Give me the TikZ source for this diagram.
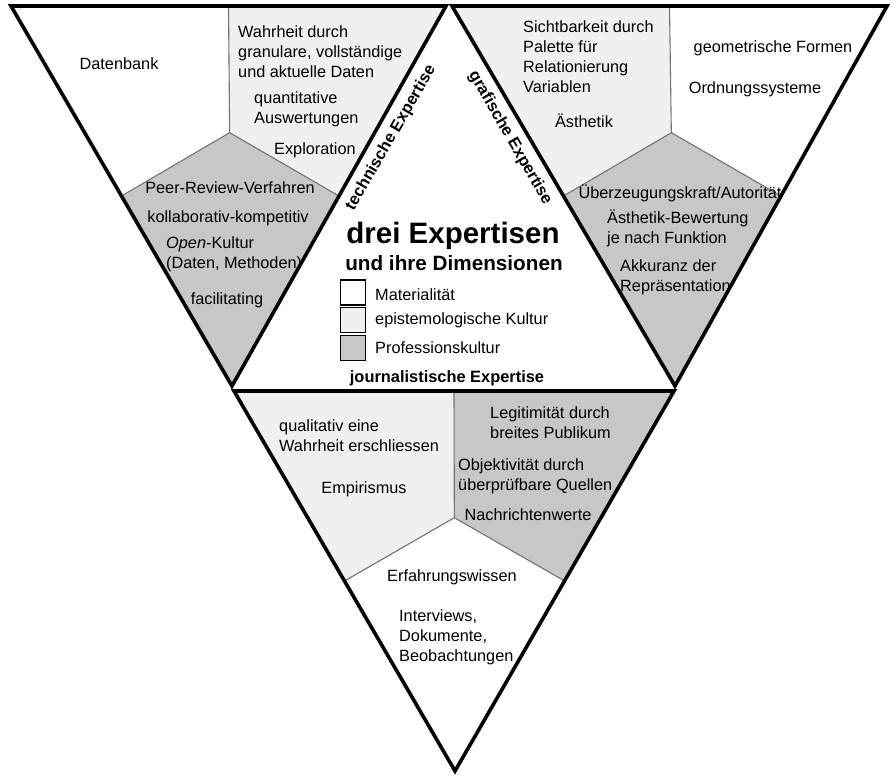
\documentclass[tikz,border=0pt]{standalone}
\usepackage{fontspec}
\setmainfont{Liberation Sans}
\usetikzlibrary{calc}
\definecolor{lightfill}{gray}{0.94}
\definecolor{darkfill}{gray}{0.78}
\definecolor{splitgray}{gray}{0.45}
\begin{document}
\begin{tikzpicture}[x=1pt,y=-1pt,
  txt/.style={font=\fontsize{16.3}{20}\selectfont, inner sep=0pt, align=left},
  ctxt/.style={txt, align=center, anchor=base},
  ltxt/.style={txt, anchor=base west},
  btxt/.style={font=\fontsize{16.4}{20}\selectfont\bfseries, inner sep=0pt},
  tribound/.style={line width=3.6pt, line join=miter},
  splitline/.style={draw=splitgray, line width=1.1pt},
  legbox/.style={draw, line width=1.3pt, minimum size=25pt, inner sep=0pt}]
\useasboundingbox (0,0) rectangle (894,777);
\fill[white] (0,0) rectangle (894,777);

% ---------- left triangle (technische Expertise)
\coordinate (LA) at (11,6);
\coordinate (LB) at (446,6);
\coordinate (LC) at (232,386);
\coordinate (LT) at ($(LA)!0.5!(LB)$);
\coordinate (LL) at ($(LA)!0.5!(LC)$);
\coordinate (LR) at ($(LB)!0.5!(LC)$);
\coordinate (LM) at ($(LT)!1/3!(LC)$);
\fill[white] (LA) -- (LT) -- (LM) -- (LL) -- cycle;
\fill[lightfill] (LT) -- (LB) -- (LR) -- (LM) -- cycle;
\fill[darkfill] (LL) -- (LM) -- (LR) -- (LC) -- cycle;
\draw[splitline] (LT) -- (LM) -- (LL) (LM) -- (LR);

% ---------- right triangle (grafische Expertise)
\coordinate (RA) at (452,6);
\coordinate (RB) at (887,6);
\coordinate (RC) at (675,386);
\coordinate (RT) at ($(RA)!0.5!(RB)$);
\coordinate (RL) at ($(RA)!0.5!(RC)$);
\coordinate (RR) at ($(RB)!0.5!(RC)$);
\coordinate (RM) at ($(RT)!1/3!(RC)$);
\fill[lightfill] (RA) -- (RT) -- (RM) -- (RL) -- cycle;
\fill[white] (RT) -- (RB) -- (RR) -- (RM) -- cycle;
\fill[darkfill] (RL) -- (RM) -- (RR) -- (RC) -- cycle;
\draw[splitline] (RT) -- (RM) -- (RL) (RM) -- (RR);

% ---------- bottom triangle (journalistische Expertise)
\coordinate (BA) at (234,391);
\coordinate (BB) at (674,391);
\coordinate (BC) at (455,771);
\coordinate (BT) at ($(BA)!0.5!(BB)$);
\coordinate (BL) at ($(BA)!0.5!(BC)$);
\coordinate (BR) at ($(BB)!0.5!(BC)$);
\coordinate (BM) at ($(BT)!1/3!(BC)$);
\fill[lightfill] (BA) -- (BT) -- (BM) -- (BL) -- cycle;
\fill[darkfill] (BT) -- (BB) -- (BR) -- (BM) -- cycle;
\fill[white] (BL) -- (BM) -- (BR) -- (BC) -- cycle;
\draw[splitline] (BT) -- (BM) -- (BL) (BM) -- (BR);

% ---------- borders
\draw[tribound] (LA) -- (LB) -- (LC) -- cycle;
\draw[tribound] (RA) -- (RB) -- (RC) -- cycle;
\draw[tribound] (BA) -- (BB) -- (BC) -- cycle;

% ---------- texts left triangle
\node[ctxt] (datenbank) at (119,69.5) {Datenbank};
\node[ltxt] (wahrheit) at (238,77.5) {Wahrheit durch\\granulare, vollständige\\und aktuelle Daten};
\node[ltxt] (quanti) at (254,123.5) {quantitative\\Auswertungen};
\node[ltxt] (explo) at (274,154.5) {Exploration};
\node[ctxt] (peer) at (230,193.5) {Peer-Review-Verfahren};
\node[ctxt] (kollab) at (228,222.5) {kollaborativ-kompetitiv};
\node[ltxt] (open) at (166,268.5) {\textit{Open}-Kultur\\(Daten, Methoden)};
\node[ctxt] (facil) at (227,304.5) {facilitating};

% ---------- texts right triangle
\node[ltxt] (sicht) at (523,92.5) {Sichtbarkeit durch\\Palette für\\Relationierung\\Variablen};
\node[ctxt] (aesth) at (584,127.5) {Ästhetik};
\node[ctxt] (geom) at (773,52.5) {geometrische Formen};
\node[ctxt] (ordn) at (755,93.5) {Ordnungssysteme};
\node[ctxt] (ueberz) at (680,198.5) {Überzeugungskraft/Autorität};
\node[ltxt] (bewert) at (607,243.5) {Ästhetik-Bewertung\\je nach Funktion};
\node[ltxt] (akkur) at (620,291.5) {Akkuranz der\\Repräsentation};

% ---------- texts bottom triangle
\node[ltxt] (quali) at (279,451.5) {qualitativ eine\\Wahrheit erschliessen};
\node[ctxt] (empir) at (364,493.5) {Empirismus};
\node[ltxt] (legit) at (490,438.5) {Legitimität durch\\breites Publikum};
\node[ltxt] (objekt) at (458,490.5) {Objektivität durch\\überprüfbare Quellen};
\node[ctxt] (nachr) at (528,520.5) {Nachrichtenwerte};
\node[ctxt] (erfahr) at (452,581.5) {Erfahrungswissen};
\node[ltxt] (interv) at (399,661.5) {Interviews,\\Dokumente,\\Beobachtungen};

% ---------- centre: title and legend
\node[font=\fontsize{29.5}{32}\selectfont\bfseries, inner sep=0pt, anchor=base] (title) at (453,243) {drei Expertisen};
\node[font=\fontsize{20.7}{24}\selectfont\bfseries, inner sep=0pt, anchor=base] (subtitle) at (454,270) {und ihre Dimensionen};
\node[legbox, fill=white] (lg1) at (353,292.5) {};
\node[legbox, fill=lightfill] (lg2) at (353,320) {};
\node[legbox, fill=darkfill] (lg3) at (353,348) {};
\node[ltxt] (lt1) at (375,300) {Materialität};
\node[ltxt] (lt2) at (375,324.5) {epistemologische Kultur};
\node[ltxt] (lt3) at (375,353) {Professionskultur};
\node[btxt, anchor=base] (journ) at (447,382) {journalistische Expertise};
\node[btxt, rotate=60] (techn) at (391,138) {technische Expertise};
\node[btxt, rotate=-60] (grafik) at (510,138) {grafische Expertise};
\end{tikzpicture}
\end{document}
